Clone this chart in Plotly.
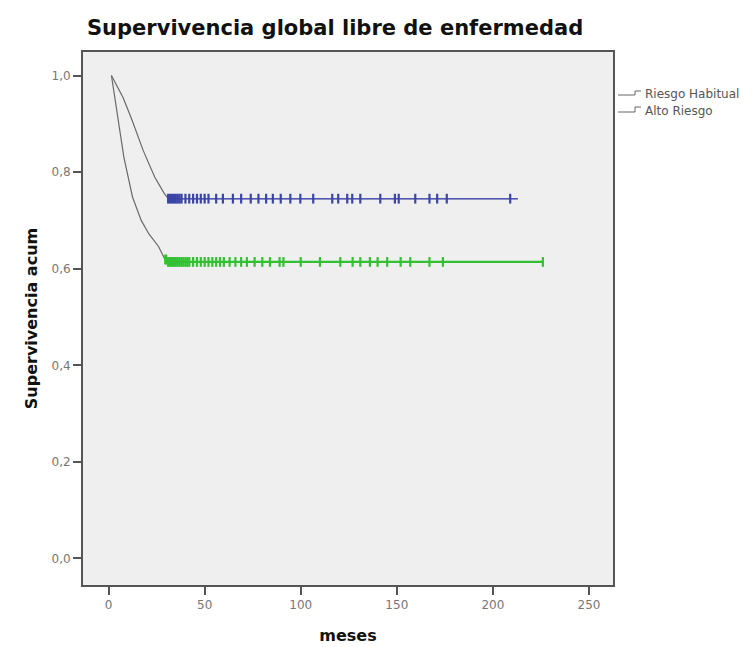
import plotly.graph_objects as go

# Kaplan-Meier estimates (months, cumulative survival)
habitual_t = [1.5, 3.5, 7.6, 12, 18, 24, 28.8, 31, 213]
habitual_s = [1.0, 0.985, 0.954, 0.91, 0.845, 0.79, 0.757, 0.745, 0.745]
alto_t = [1.5, 4, 8, 12.5, 17, 21, 26, 29.4, 31, 226]
alto_s = [1.0, 0.935, 0.83, 0.748, 0.70, 0.672, 0.646, 0.619, 0.614, 0.614]

# Censored observations
habitual_cens = [31, 32, 33, 34, 35, 36, 37, 38, 40, 42, 44, 46, 48, 50, 52, 56, 59.5,
                 64.7, 69, 74, 78, 82, 85.5, 89.6, 94.6, 99.8, 106.5, 116.4, 119.5,
                 124.2, 126.8, 131, 141.4, 149, 151, 159.6, 167, 171, 176, 209]
alto_cens = [29.5, 30, 31, 32, 33, 34, 35, 36, 37, 38, 39, 40, 41, 42, 44, 46, 48, 50,
             52, 54, 56, 58, 60, 63, 66, 69, 72, 76, 80, 84, 89, 91, 100, 110, 120.6,
             127, 131, 136, 140, 145, 152, 157, 167, 174, 226]

group_names = ["Riesgo Habitual", "Alto Riesgo"]
blue = "#3b45a6"
green = "#33c033"

x_axis_ticks = [0, 50, 100, 150, 200, 250]
y_axis_ticks = [0.0, 0.2, 0.4, 0.6, 0.8, 1.0]

fig = go.Figure()

# full curves (descent drawn as thin grey line)
for t, s in [(habitual_t, habitual_s), (alto_t, alto_s)]:
    fig.add_trace(go.Scatter(x=t, y=s, mode="lines",
                             line=dict(color="#6a6a6a", width=1.2),
                             showlegend=False, hoverinfo="skip"))


def plateau(t, s):
    # flat tail of the curve
    level = s[-1]
    start = t[s.index(level)]
    return [start, t[-1]], [level, level]


for t, s, col, w in [(habitual_t, habitual_s, "#5058b4", 1.4),
                     (alto_t, alto_s, green, 2.2)]:
    px_, py_ = plateau(t, s)
    fig.add_trace(go.Scatter(x=px_, y=py_, mode="lines",
                             line=dict(color=col, width=w),
                             showlegend=False, hoverinfo="skip"))


def surv_at(t, s, x):
    val = s[0]
    for ti, si in zip(t, s):
        if ti <= x:
            val = si
    return val


# censor marks
for t, s, cens, col in [(habitual_t, habitual_s, habitual_cens, blue),
                        (alto_t, alto_s, alto_cens, green)]:
    fig.add_trace(go.Scatter(x=cens, y=[surv_at(t, s, c) for c in cens],
                             mode="markers",
                             marker=dict(symbol="line-ns-open", size=7, color=col,
                                         line=dict(width=2.2, color=col)),
                             showlegend=False, hoverinfo="skip"))

# plot area in pixels
L, R, T, B = 83, 613, 52, 585
W, H = 753, 647


def xp(px):
    return (px - L) / (R - L)


def yp(py):
    return (B - py) / (B - T)


# legend drawn beside the frame
legend_rows = [(95, 91, 94), (112, 107, 110.5)]
for name, (low, high, ty) in zip(group_names, legend_rows):
    path = (f"M {xp(618)} {yp(low)} L {xp(635)} {yp(low)} "
            f"L {xp(635)} {yp(high)} L {xp(641)} {yp(high)}")
    fig.add_shape(type="path", path=path, xref="paper", yref="paper",
                  line=dict(color="#666", width=1))
    fig.add_annotation(text=name, xref="paper", yref="paper",
                       x=xp(643), y=yp(ty), xanchor="left", yanchor="middle",
                       showarrow=False,
                       font=dict(family="DejaVu Sans", size=12, color="#555"))

fig.update_layout(
    width=W, height=H,
    margin=dict(l=L, r=W - R, t=T, b=H - B),
    paper_bgcolor="white",
    plot_bgcolor="#efefef",
    separators=",.",
    title=dict(text="<b>Supervivencia global libre de enfermedad</b>",
               xref="container", yref="container",
               x=87 / W, xanchor="left", y=1 - 28 / H, yanchor="middle",
               font=dict(family="DejaVu Sans", size=21, color="#111")),
    xaxis=dict(range=[-13.3, 262.5], tickvals=x_axis_ticks, automargin=False,
               ticks="outside", ticklen=8, tickwidth=1.5, tickcolor="#555",
               showline=True, linecolor="#555", linewidth=2, mirror=True,
               showgrid=False, zeroline=False,
               tickfont=dict(family="DejaVu Sans", size=12, color="#777"),
               title=dict(text="<b>meses</b>", standoff=18,
                          font=dict(family="DejaVu Sans", size=16, color="#111"))),
    yaxis=dict(range=[-0.0549, 1.0487], tickvals=y_axis_ticks, tickformat=".1f",
               automargin=False,
               ticks="outside", ticklen=8, tickwidth=1.5, tickcolor="#555",
               showline=True, linecolor="#555", linewidth=2, mirror=True,
               showgrid=False, zeroline=False,
               tickfont=dict(family="DejaVu Sans", size=12, color="#777"),
               title=dict(text="<b>Supervivencia acum</b>", standoff=10,
                          font=dict(family="DejaVu Sans", size=16, color="#111"))),
    showlegend=False,
)

fig.write_html("out.html")
